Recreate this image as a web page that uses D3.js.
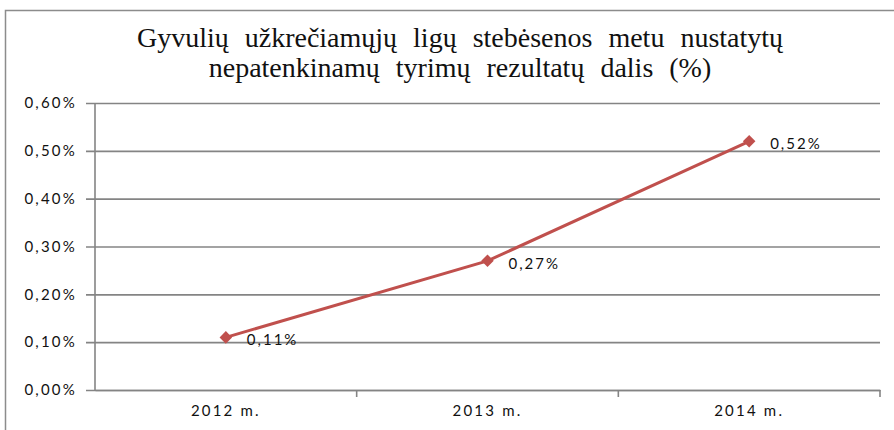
<!DOCTYPE html>
<html lang="lt">
<head>
    <meta charset="UTF-8">
    <title>Nepatenkinamų tyrimų rezultatų dalis</title>
    <script src="https://d3js.org/d3.v7.min.js"></script>
    <style>
        body { margin: 0; background: #fff; }
        .tick text { font-family: Lato, "Open Sans", sans-serif; font-size: 15px; fill: #111; letter-spacing: 2.2px; }
        .title { font-family: "Liberation Serif", "Times New Roman", serif; font-size: 28px; fill: #111; word-spacing: 9px; }
        .lbl { font-family: Lato, "Open Sans", sans-serif; font-size: 15px; fill: #111; letter-spacing: 2px; }
    </style>
</head>
<body>
    <div id="chart"></div>
    <script>

        const categories = ["2012 m.", "2013 m.", "2014 m."];
        const values = [0.11, 0.27, 0.52];
        const yTicks = [0, 0.1, 0.2, 0.3, 0.4, 0.5, 0.6];
        const titleLines = [
            "Gyvulių užkrečiamųjų ligų stebėsenos metu nustatytų",
            "nepatenkinamų tyrimų rezultatų dalis (%)"
        ];

        const width = 894;
        const height = 430;
        const margin = { top: 103, right: 14, bottom: 40, left: 95 };

        const svg = d3.select("#chart")
            .append("svg")
            .attr("width", width)
            .attr("height", height);

        // outer chart frame (right and bottom edges fall outside the picture)
        svg.append("rect")
            .attr("x", 5.5)
            .attr("y", 10.5)
            .attr("width", width)
            .attr("height", height)
            .attr("fill", "none")
            .attr("stroke", "#8c8c8c")
            .attr("stroke-width", 1.5);

        svg.selectAll(".title")
            .data(titleLines)
            .join("text")
            .attr("class", "title")
            .attr("x", 460)
            .attr("y", (d, i) => 47 + i * 30)
            .attr("text-anchor", "middle")
            .text(d => d);

        const x = d3.scaleBand()
            .domain(categories)
            .range([margin.left, width - margin.right]);

        const y = d3.scaleLinear()
            .domain([0, 0.6])
            .range([height - margin.bottom, margin.top]);

        const fmt = d => d3.format(".2f")(d).replace(".", ",") + "%";

        // y axis with gridlines
        const yAxis = svg.append("g")
            .attr("transform", `translate(${margin.left},0)`)
            .call(d3.axisLeft(y)
                .tickValues(yTicks)
                .tickFormat(fmt)
                .tickSize(-(width - margin.left - margin.right))
                .tickPadding(18));
        yAxis.selectAll(".tick line")
            .attr("x1", -9)
            .attr("stroke", "#848484")
            .attr("stroke-width", 1.6);
        yAxis.select(".domain")
            .attr("stroke", "#848484")
            .attr("stroke-width", 1.6)
            .attr("d", `M0,${y(0.6)}V${y(0)}`);

        // x axis
        const xAxis = svg.append("g")
            .attr("transform", `translate(0,${y(0)})`)
            .call(d3.axisBottom(x).tickSize(0).tickPadding(15));
        xAxis.select(".domain")
            .attr("stroke", "#848484")
            .attr("stroke-width", 1.6);
        xAxis.selectAll(".sep")
            .data(categories)
            .join("line")
            .attr("class", "sep")
            .attr("x1", d => x(d) + x.bandwidth())
            .attr("x2", d => x(d) + x.bandwidth())
            .attr("y1", 0)
            .attr("y2", 7)
            .attr("stroke", "#848484")
            .attr("stroke-width", 1.6);

        const pts = categories.map((c, i) => ({ c, v: values[i] }));

        svg.append("path")
            .datum(pts)
            .attr("fill", "none")
            .attr("stroke", "#c0504d")
            .attr("stroke-width", 3)
            .attr("d", d3.line()
                .x(d => x(d.c) + x.bandwidth() / 2)
                .y(d => y(d.v)));

        svg.selectAll(".marker")
            .data(pts)
            .join("path")
            .attr("class", "marker")
            .attr("transform", d => `translate(${x(d.c) + x.bandwidth() / 2},${y(d.v)})`)
            .attr("d", d3.symbol(d3.symbolDiamond2, 100))
            .attr("fill", "#c0504d");

        svg.selectAll(".lbl")
            .data(pts)
            .join("text")
            .attr("class", "lbl")
            .attr("x", d => x(d.c) + x.bandwidth() / 2 + 21)
            .attr("y", d => y(d.v) + 8)
            .text(d => fmt(d.v));

    </script>
</body>
</html>
